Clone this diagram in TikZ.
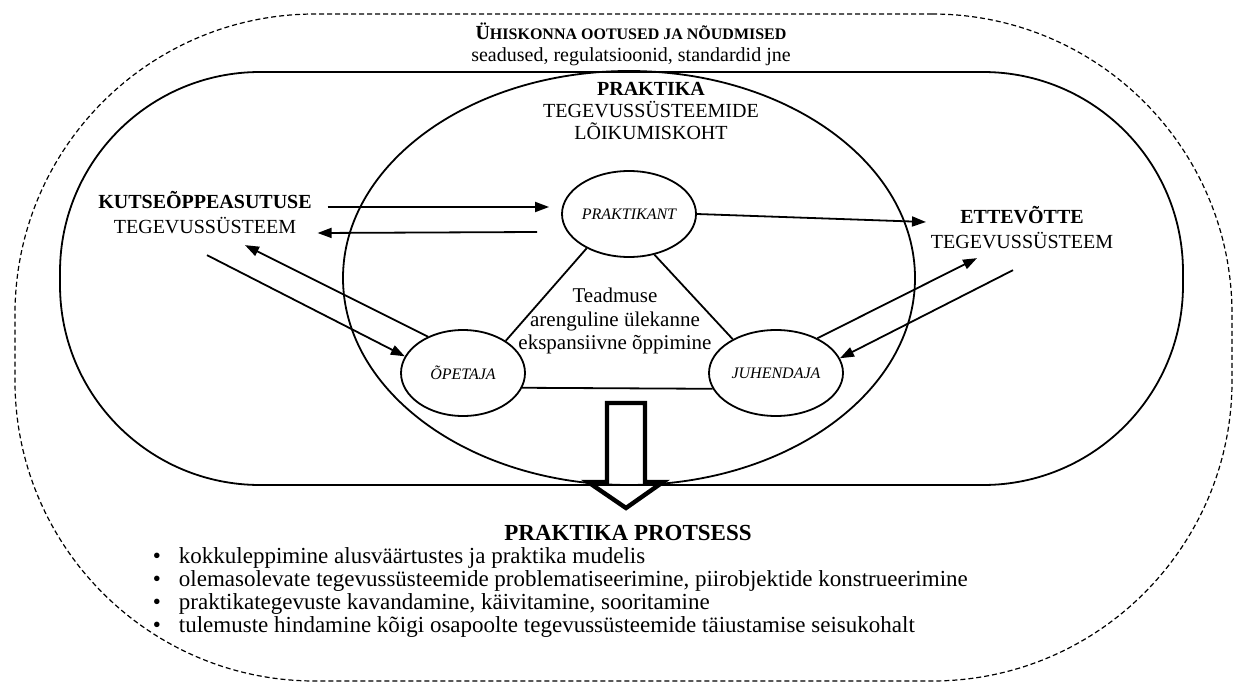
\documentclass[tikz,border=0pt]{standalone}
\usepackage{fontspec}
\setmainfont{Liberation Serif}
\usetikzlibrary{calc,shapes.geometric,arrows.meta}
\newcommand{\vk}[1]{{\fontsize{8}{9}\selectfont #1}}

\begin{document}
\begin{tikzpicture}[x=0.5pt,y=-0.5pt,line width=0.9pt,
  roll/.style={ellipse,draw,inner sep=0pt,minimum height=43pt,font=\fontsize{8}{9}\selectfont\itshape},
  silt/.style={align=center,inner sep=0pt,font=\fontsize{10}{12.5}\selectfont},
  nool/.style={-{Triangle[length=7pt,width=5pt]}}]
\useasboundingbox (0,0) rectangle (1235,684);
\node [draw,dash pattern=on 2.5pt off 1.5pt,line width=0.6pt,rounded corners=150pt,
  minimum width=608.5pt,minimum height=333.5pt] (uhiskond) at (623.5,347.5) {};
\node [draw,rounded corners=100pt,minimum width=561.5pt,minimum height=206.5pt] (ala) at (621.5,278.5) {};
\node [ellipse,draw,minimum width=286pt,minimum height=207pt] (ring) at (629,278) {};
\node [silt,font=\fontsize{10}{11}\selectfont] (noue) at (631,44)
  {{\bfseries Ü\vk{HISKONNA OOTUSED JA NÕUDMISED}}\\seadused, regulatsioonid, standardid jne};
\node [silt,font=\fontsize{10}{11}\selectfont] (praktika) at (651,111)
  {\textbf{PRAKTIKA}\\TEGEVUSSÜSTEEMIDE\\LÕIKUMISKOHT};
\node [silt] (kool) at (205,213) {\textbf{KUTSEÕPPEASUTUSE}\\TEGEVUSSÜSTEEM};
\node [silt] (ettevote) at (1022,228) {\textbf{ETTEVÕTTE}\\TEGEVUSSÜSTEEM};
\node [roll,minimum width=67pt] (praktikant) at (629,214) {PRAKTIKANT};
\node [roll,minimum width=62pt] (opetaja) at (463,373) {ÕPETAJA};
\node [roll,minimum width=67pt] (juhendaja) at (776,373) {JUHENDAJA};
\node [silt,font=\fontsize{10.5}{11.75}\selectfont] (teadmus) at (615,321)
  {Teadmuse\\arenguline ülekanne\\ekspansiivne õppimine};
\draw (praktikant.219) -- (opetaja.37);
\draw (praktikant.302) -- (juhendaja.142);
\draw (opetaja.-14) -- (juhendaja.194);
\draw [nool] ($(kool.east)+(15,-6)$) -- ($(praktikant.west)+(-12,-7)$);
\draw [nool] ($(praktikant.west)+(-24,18)$) -- ($(kool.east)+(5,20)$);
\draw [nool] (praktikant.east) -- ($(ettevote.west)+(-4,-6)$);
\draw [nool] ($(kool.south)+(2,20)$) -- (opetaja.164);
\draw [nool] (opetaja.134) -- ($(kool.south)+(40,10)$);
\draw [nool] (juhendaja.40) -- ($(ettevote.south)+(-45,8)$);
\draw [nool] ($(ettevote.south)+(-9,20)$) -- (juhendaja.13);
\draw [line width=2.2pt,line join=miter] (607,403) -- (645,403) -- (645,482) -- (663,482)
  -- (626,508) -- (588,482) -- (607,482) -- cycle;
\node [font=\fontsize{11.5}{12}\selectfont\bfseries,inner sep=0pt] (protsess) at (628,533) {PRAKTIKA PROTSESS};
\node [anchor=north west,align=left,inner sep=0pt,font=\fontsize{11.5}{11.5}\selectfont] (punktid) at (152,547)
  {\textbullet\hspace{9pt}kokkuleppimine alusväärtustes ja praktika mudelis\\
   \textbullet\hspace{9pt}olemasolevate tegevussüsteemide problematiseerimine, piirobjektide konstrueerimine\\
   \textbullet\hspace{9pt}praktikategevuste kavandamine, käivitamine, sooritamine\\
   \textbullet\hspace{9pt}tulemuste hindamine kõigi osapoolte tegevussüsteemide täiustamise seisukohalt};
\end{tikzpicture}
\end{document}
